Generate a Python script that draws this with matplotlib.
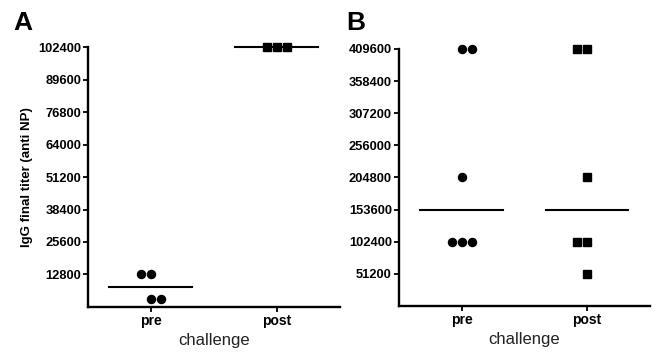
import matplotlib.pyplot as plt
import numpy as np

# Data
groups = ['pre', 'post']
a_pre = [12800, 12800, 3200, 3200]
a_post = [102400, 102400, 102400]
b_pre = [409600, 409600, 204800, 102400, 102400, 102400]
b_post = [409600, 409600, 204800, 102400, 102400, 51200]

a_ticks = [12800, 25600, 38400, 51200, 64000, 76800, 89600, 102400]
b_ticks = [51200, 102400, 153600, 204800, 256000, 307200, 358400, 409600]

font = ['Liberation Sans', 'DejaVu Sans']
plt.rcParams['font.family'] = font

# which side a pair of equal points leans to (as in the original layout)
lean = {
    ('A', 0, 12800): -1, ('A', 0, 3200): 1,
    ('B', 0, 409600): 1, ('B', 1, 409600): -1, ('B', 1, 102400): -1,
}


def spread(values, xc, key, step=0.08):
    xs = np.zeros(len(values))
    vals = np.array(values)
    for v in np.unique(vals):
        idx = np.where(vals == v)[0]
        n = len(idx)
        off = (np.arange(n) - (n - 1) / 2) * step
        if n % 2 == 0:
            off = off + lean.get(key + (int(v),), 0) * step / 2
        xs[idx] = xc + off
    return xs


def panel(ax, name, series, markers, ticks, top):
    for i, (vals, m) in enumerate(zip(series, markers)):
        xs = spread(vals, i, (name, i))
        ax.plot(xs, vals, linestyle='none', marker=m, color='black',
                markersize=5.8, clip_on=False, zorder=3)
        med = np.median(vals)
        ax.plot([i - 0.33, i + 0.33], [med, med], color='black', lw=1.5,
                clip_on=False)
    ax.set_xlim(-0.5, 1.5)
    ax.set_ylim(0, top)
    ax.set_yticks(ticks)
    ax.set_yticklabels([str(t) for t in ticks], fontweight='bold', fontsize=9.3)
    ax.set_xticks(range(len(groups)))
    ax.set_xticklabels(groups, fontweight='bold', fontsize=10)
    ax.spines['top'].set_visible(False)
    ax.spines['right'].set_visible(False)
    ax.spines['left'].set_linewidth(1.7)
    ax.spines['bottom'].set_linewidth(1.7)
    ax.tick_params(direction='out', length=3.5, width=1.3, pad=1.5)
    ax.set_xlabel('challenge', fontsize=12, labelpad=4, color='#222222')


fig = plt.figure(figsize=(6.57, 3.52), dpi=100)
axA = fig.add_axes([0.134, 0.128, 0.383, 0.738])
axB = fig.add_axes([0.607, 0.131, 0.382, 0.730])

panel(axA, 'A', [a_pre, a_post], ['o', 's'], a_ticks, 102400)
panel(axB, 'B', [b_pre, b_post], ['o', 's'], b_ticks, 409600)

axA.set_ylabel('IgG final titer (anti NP)', fontweight='bold', fontsize=9.5,
               labelpad=4)

fig.text(0.021, 0.968, 'A', fontsize=19, fontweight='bold', va='top')
fig.text(0.527, 0.968, 'B', fontsize=19, fontweight='bold', va='top')

plt.savefig('out.png', dpi=100)
